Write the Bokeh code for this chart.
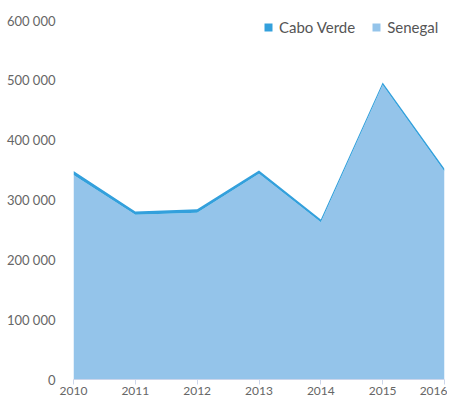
from bokeh.plotting import figure
from bokeh.models import ColumnDataSource, Legend, LegendItem, CustomJSTickFormatter, FixedTicker
from bokeh.embed import file_html
from bokeh.resources import INLINE

years = [2010, 2011, 2012, 2013, 2014, 2015, 2016]
senegal = [342000, 275500, 279000, 344000, 263000, 492500, 348000]
cabo_verde = [6500, 5500, 5500, 5500, 4500, 4000, 4500]
y_ticks = [0, 100000, 200000, 300000, 400000, 500000, 600000]

COL_CV = "#33a0dc"
COL_SN = "#94c4ea"
FONT = "Lato"
TXT = "#666666"

src = ColumnDataSource(dict(year=years, senegal=senegal, cabo=cabo_verde))

p = figure(width=447, height=397, output_backend="svg", toolbar_location=None,
           x_range=(2010, 2016), y_range=(0, 617000),
           min_border_left=73, min_border_right=3, min_border_top=10, min_border_bottom=14)
p.outline_line_color = None
p.xgrid.grid_line_color = None
p.ygrid.grid_line_color = None

rs = p.varea_stack(stackers=["senegal", "cabo"], x="year", color=[COL_SN, COL_CV], source=src)

p.xaxis.ticker = FixedTicker(ticks=years)
p.xaxis.axis_line_color = "#ccd6eb"
p.xaxis.major_tick_line_color = "#ccd6eb"
p.xaxis.major_tick_out = 5
p.xaxis.major_tick_in = 0
p.xaxis.minor_tick_line_color = None
p.xaxis.major_label_text_font = FONT
p.xaxis.major_label_text_font_size = "12px"
p.xaxis.major_label_text_color = TXT
p.xaxis.major_label_standoff = 2

p.yaxis.ticker = FixedTicker(ticks=y_ticks)
p.yaxis.formatter = CustomJSTickFormatter(code="return tick.toFixed(0).replace(/\\B(?=(\\d{3})+(?!\\d))/g, ' ');")
p.yaxis.axis_line_color = None
p.yaxis.major_tick_line_color = None
p.yaxis.minor_tick_line_color = None
p.yaxis.major_label_text_font = FONT
p.yaxis.major_label_text_font_size = "13px"
p.yaxis.major_label_text_color = TXT
p.yaxis.major_label_standoff = 12

legend = Legend(items=[LegendItem(label="Cabo Verde", renderers=[rs[1]]),
                       LegendItem(label="Senegal", renderers=[rs[0]])],
                orientation="horizontal", location=(190, 343),
                label_text_font=FONT, label_text_font_size="15px", label_text_color="#555555",
                glyph_width=10, glyph_height=10, label_standoff=6, spacing=16,
                padding=0, margin=0, background_fill_alpha=0, border_line_color=None,
                label_height=16)
p.add_layout(legend, "center")

open("out.html", "w").write(file_html(p, INLINE))
